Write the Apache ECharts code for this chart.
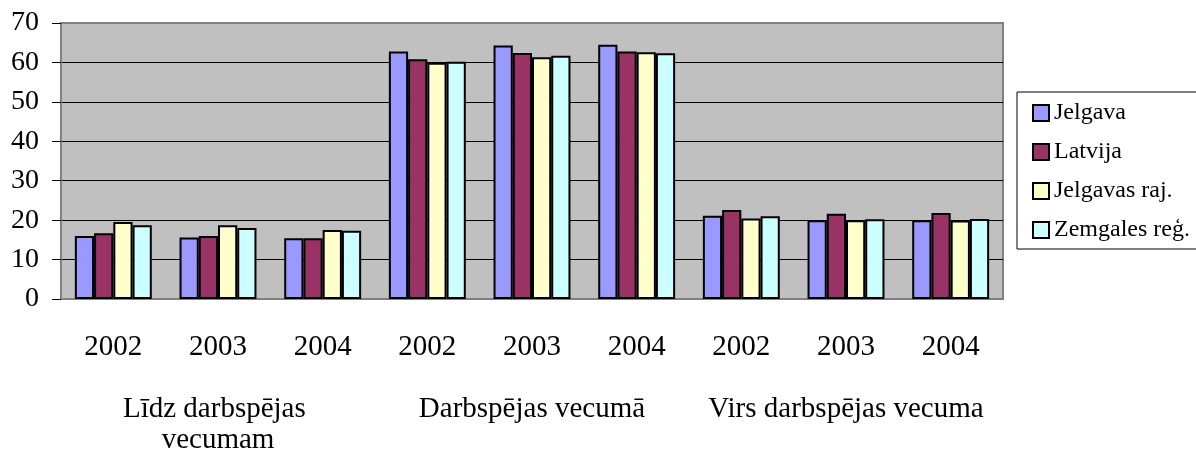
<!DOCTYPE html>
<html>
<head>
<meta charset="utf-8">
<script src="https://cdn.jsdelivr.net/npm/echarts@6/dist/echarts.min.js"></script>
<style>
html,body{margin:0;padding:0;background:#fff;}
#chart{width:1196px;height:456px;}
</style>
</head>
<body>
<div id="chart"></div>
<script>
// Data
var years = ['2002','2003','2004','2002','2003','2004','2002','2003','2004'];
var groups = ['Līdz darbspējas vecumam','Darbspējas vecumā','Virs darbspējas vecuma'];
var seriesNames = ['Jelgava','Latvija','Jelgavas raj.','Zemgales reģ.'];
var jelgava = [16.0, 15.6, 15.4, 62.8, 64.3, 64.5, 21.1, 20.0, 20.0];
var latvija = [16.7, 16.0, 15.4, 60.8, 62.4, 62.8, 22.6, 21.6, 21.8];
var jelgavasRaj = [19.5, 18.7, 17.5, 59.9, 61.3, 62.6, 20.4, 20.0, 19.9];
var zemgalesReg = [18.7, 18.0, 17.3, 60.2, 61.7, 62.3, 21.0, 20.2, 20.3];
var yTicks = [0,10,20,30,40,50,60,70];

var values = [jelgava, latvija, jelgavasRaj, zemgalesReg];
var colors = ['#9999ff','#993366','#ffffcc','#ccffff'];
var font = "'Liberation Serif','Times New Roman',serif";

var chart = echarts.init(document.getElementById('chart'), null, {renderer:'canvas'});
var series = seriesNames.map(function(n,i){
  return {
    name: n,
    type: 'bar',
    xAxisIndex: 0,
    data: values[i],
    barGap: '0%',
    barCategoryGap: '26.5%',
    itemStyle: {color: colors[i], borderColor: '#000', borderWidth: 2},
    emphasis: {disabled: true}
  };
});

chart.setOption({
  animation: false,
  backgroundColor: '#fff',
  grid: {
    left: 61, right: 193, top: 23, bottom: 154.5,
    show: true, backgroundColor: '#c0c0c0', borderColor: '#808080', borderWidth: 2
  },
  legend: {
    orient: 'vertical',
    left: 1017, top: 92,
    padding: [9, 30, 7, 15],
    itemGap: 15,
    itemWidth: 16, itemHeight: 16,
    itemTextGap: 6,
    icon: 'rect',
    backgroundColor: '#fff',
    borderColor: '#000', borderWidth: 1,
    textStyle: {fontFamily: font, fontSize: 24, lineHeight: 24, color: '#000'},
    data: seriesNames
  },
  xAxis: [
    {
      type: 'category', data: years, position: 'bottom',
      axisLine: {show: true, lineStyle: {color: '#808080', width: 2}},
      axisTick: {show: false},
      axisLabel: {fontFamily: font, fontSize: 29, lineHeight: 29, color: '#000', margin: 34, interval: 0},
      splitLine: {show: false}
    },
    {
      type: 'category', data: groups, position: 'bottom',
      axisLine: {show: false}, axisTick: {show: false}, splitLine: {show: false},
      axisLabel: {fontFamily: font, fontSize: 29, lineHeight: 31, color: '#000', margin: 95, interval: 0,
        width: 296, overflow: 'break'}
    }
  ],
  yAxis: {
    type: 'value', min: yTicks[0], max: yTicks[yTicks.length-1], interval: 10,
    axisLine: {show: true, lineStyle: {color: '#808080', width: 2}},
    axisTick: {show: true, length: 9, lineStyle: {color: '#000', width: 1}},
    axisLabel: {fontFamily: font, fontSize: 28, color: '#000', margin: 22},
    splitLine: {show: true, lineStyle: {color: ['#808080','#000','#000','#000','#000','#000','#000','#808080'], width: 1}}
  },
  series: series
});
</script>
</body>
</html>
